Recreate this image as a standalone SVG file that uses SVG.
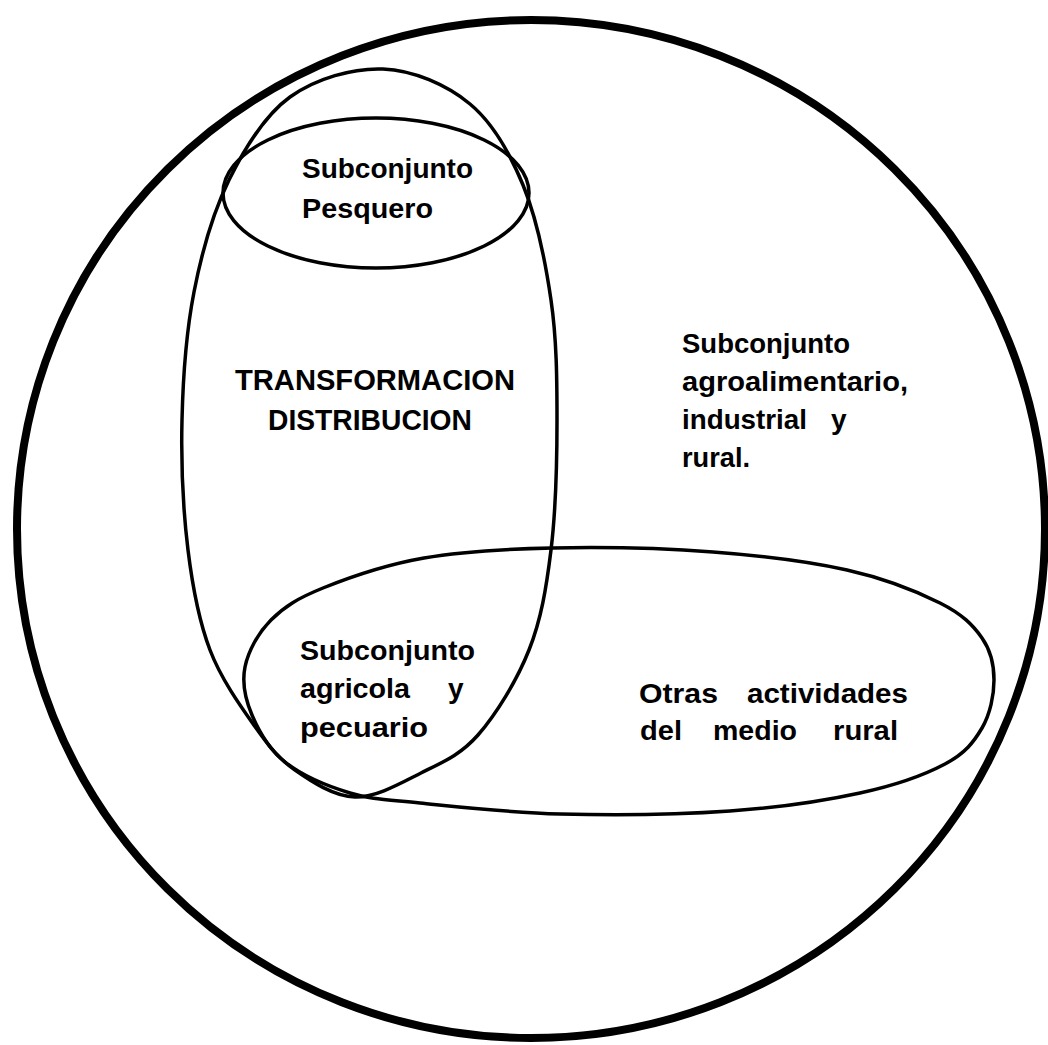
<svg xmlns="http://www.w3.org/2000/svg" width="1048" height="1045" viewBox="0 0 1048 1045">
<style>
.line{fill:none;stroke:#000;stroke-linejoin:round;stroke-linecap:round}
.thin{stroke-width:3.5}
.thick{stroke-width:8}
text{font-family:"Liberation Sans",Arial,Helvetica,sans-serif;font-weight:bold;font-size:28px;fill:#000}
</style>
<rect width="1048" height="1045" fill="#fff"/>
<g id="universo">
<ellipse class="line thick" cx="531" cy="529" rx="514" ry="509"/>
<text x="682" y="353" textLength="168" lengthAdjust="spacingAndGlyphs">Subconjunto</text>
<text x="682" y="391" textLength="226" lengthAdjust="spacingAndGlyphs">agroalimentario,</text>
<text x="682" y="429"><tspan x="682" textLength="125" lengthAdjust="spacingAndGlyphs">industrial</tspan> <tspan x="831">y</tspan></text>
<text x="682" y="467" textLength="68" lengthAdjust="spacingAndGlyphs">rural.</text>
</g>
<g id="transformacion">
<path class="line thin" d="M383,69 C413,70.2 446.7,84.7 470,104 C493.3,123.3 509.5,152.3 523,185 C536.5,217.7 545.3,260.8 551,300 C556.7,339.2 557,378.3 557,420 C557,461.7 555.7,511.7 551,550 C546.3,588.3 541.2,619.2 529,650 C516.8,680.8 496,714.5 478,735 C460,755.5 441.5,762.7 421,773 C400.5,783.3 376,797.5 355,797 C334,796.5 311.5,781.5 295,770 C278.5,758.5 270.2,748 256,728 C241.8,708 221.3,679.7 210,650 C198.7,620.3 192.7,588.3 188,550 C183.3,511.7 181,463 182,420 C183,377 186.2,332 194,292 C201.8,252 213,212.5 229,180 C245,147.5 264.3,115.5 290,97 C315.7,78.5 353,67.8 383,69 Z"/>
<text x="235" y="390" textLength="280" lengthAdjust="spacingAndGlyphs" style="font-size:29px">TRANSFORMACION</text>
<text x="268" y="430" textLength="204" lengthAdjust="spacingAndGlyphs" style="font-size:29px">DISTRIBUCION</text>
</g>
<g id="pesquero">
<ellipse class="line thin" cx="376" cy="193" rx="153" ry="75"/>
<text x="302" y="178" textLength="171" lengthAdjust="spacingAndGlyphs">Subconjunto</text>
<text x="302" y="218" textLength="131" lengthAdjust="spacingAndGlyphs">Pesquero</text>
</g>
<g id="medio-rural">
<path class="line thin" d="M245,667 C248.2,651.2 258,633.2 271,620 C284,606.8 297.5,598.3 323,588 C348.5,577.7 385.8,564.7 424,558 C462.2,551.3 503.8,549 552,548 C600.2,547 663.8,548.3 713,552 C762.2,555.7 809.2,561.5 847,570 C884.8,578.5 917.5,591.7 940,603 C962.5,614.3 973,625.2 982,638 C991,650.8 994,665 994,680 C994,695 990.2,714 982,728 C973.8,742 965.3,753.2 945,764 C924.7,774.8 895.8,785.2 860,793 C824.2,800.8 780,807.5 730,811 C680,814.5 611.7,815.3 560,814 C508.3,812.7 455,806.5 420,803 C385,799.5 372.5,799.8 350,793 C327.5,786.2 301.3,775 285,762 C268.7,749 258.7,730.8 252,715 C245.3,699.2 241.8,682.8 245,667 Z"/>
<text x="639" y="703"><tspan x="639" textLength="79" lengthAdjust="spacingAndGlyphs">Otras</tspan> <tspan x="747" textLength="161" lengthAdjust="spacingAndGlyphs">actividades</tspan></text>
<text x="640" y="740"><tspan x="640" textLength="42" lengthAdjust="spacingAndGlyphs">del</tspan> <tspan x="713" textLength="84" lengthAdjust="spacingAndGlyphs">medio</tspan> <tspan x="833" textLength="65" lengthAdjust="spacingAndGlyphs">rural</tspan></text>
</g>
<g id="agricola">
<text x="300" y="660" textLength="175" lengthAdjust="spacingAndGlyphs">Subconjunto</text>
<text x="300" y="698"><tspan x="300" textLength="110" lengthAdjust="spacingAndGlyphs">agricola</tspan> <tspan x="448">y</tspan></text>
<text x="300" y="737" textLength="128" lengthAdjust="spacingAndGlyphs">pecuario</text>
</g>
</svg>
